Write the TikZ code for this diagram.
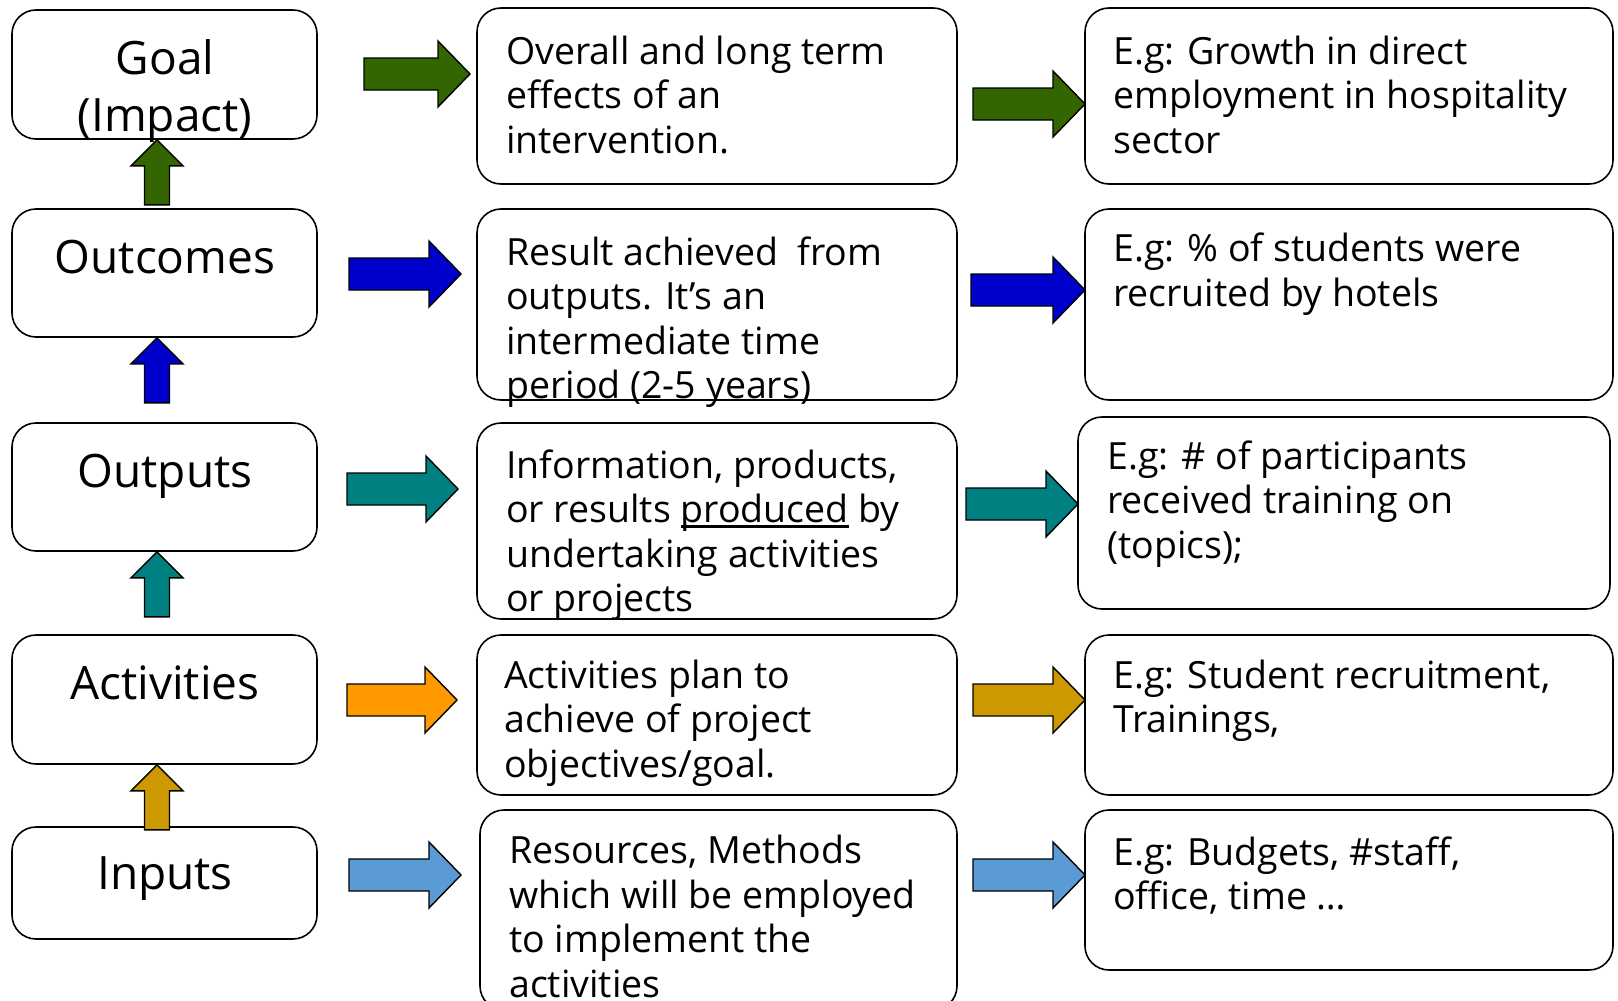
\documentclass[tikz,border=0pt]{standalone}
\usepackage{fontspec}
\setmainfont{Open Sans}
\usetikzlibrary{calc}
\definecolor{goalgreen}{HTML}{336600}
\definecolor{outblue}{HTML}{0000CC}
\definecolor{outteal}{HTML}{008080}
\definecolor{actorange}{HTML}{FF9900}
\definecolor{actgold}{HTML}{CC9900}
\definecolor{inpblue}{HTML}{5B9BD5}
\tikzset{
 box/.style={draw, line width=1.6pt, rounded corners=24pt, inner sep=0pt},
 lvl/.style={font=\fontsize{46}{57}\selectfont, anchor=base, align=center, inner sep=0pt},
 desc/.style={font=\fontsize{37.5}{44.5}\selectfont, anchor=base west, align=left, inner sep=0pt},
 blk/.style={draw, line width=1.4pt, line join=miter},
}
% fat arrow to the right: colour, x from, x to, y
\newcommand{\harr}[4]{\draw[blk, fill=#1] (#2,#4-16) -- (#3-32,#4-16) -- (#3-32,#4-33) -- (#3,#4)
 -- (#3-32,#4+33) -- (#3-32,#4+16) -- (#2,#4+16) -- cycle;}
% fat arrow up into a box: colour, box
\newcommand{\varr}[2]{\draw[blk, fill=#1] let \p1=(#2.south) in
 (\x1-20pt,\y1-26pt) -- (\x1-33.5pt,\y1-26pt) -- (\x1-7.5pt,\y1) -- (\x1+18.5pt,\y1-26pt)
 -- (\x1+5pt,\y1-26pt) -- (\x1+5pt,\y1-65pt) -- (\x1-20pt,\y1-65pt) -- cycle;}
% heavy underline
\newcommand{\uln}[1]{\setbox0\hbox{#1}\rlap{\rule[-5pt]{\wd0}{2.2pt}}\box0\relax}
\begin{document}
\begin{tikzpicture}[x=1pt, y=-1pt]
\useasboundingbox (0,0) rectangle (1618,1001);
% levels
\node[box, minimum width=305, minimum height=129] (goal) at (164.5,74.5) {};
\node[box, minimum width=305, minimum height=128] (outc) at (164.5,273) {};
\node[box, minimum width=305, minimum height=128] (outp) at (164.5,487) {};
\node[box, minimum width=305, minimum height=129] (acts) at (164.5,699.5) {};
\node[box, minimum width=305, minimum height=112] (inps) at (164.5,883) {};
% (texts sit on the baseline of their last line)
\node[lvl] (lgoal) at (165,131) {Goal\\(Impact)};
\node[lvl] (loutc) at (165,273) {Outcomes};
\node[lvl] (loutp) at (165,487) {Outputs};
\node[lvl] (lacts) at (165,699) {Activities};
\node[lvl] (linps) at (165,889) {Inputs};
\varr{goalgreen}{goal}
\varr{outblue}{outc}
\varr{outteal}{outp}
\varr{actgold}{acts}
% meaning
\node[box, minimum width=480, minimum height=176] (m1) at (717,96) {};
\node[box, minimum width=480, minimum height=191] (m2) at (717,304.5) {};
\node[box, minimum width=480, minimum height=196] (m3) at (717,521) {};
\node[box, minimum width=480, minimum height=160] (m4) at (717,715) {};
\node[box, minimum width=477, minimum height=200] (m5) at (718.5,910) {};
\node[desc] (d1) at (506,153) {Overall and long term\\effects of an\\intervention.};
\node[desc] (d2) at (506,398.5) {Result achieved\ \ from\\outputs. It’s an\\intermediate time\\period (2-5 years)};
\node[desc] (d3) at (506,611.5) {Information, products,\\or results \uln{produced} by\\undertaking activities\\or projects};
\node[desc] (d4) at (504,777) {Activities plan to\\achieve of project\\objectives/goal.};
\node[desc] (d5) at (509,997) {Resources, Methods\\which will be employed\\to implement the\\activities};
% examples
\node[box, minimum width=528, minimum height=176] (r1) at (1349,96) {};
\node[box, minimum width=528, minimum height=191] (r2) at (1349,304.5) {};
\node[box, minimum width=532, minimum height=192] (r3) at (1344,513) {};
\node[box, minimum width=528, minimum height=160] (r4) at (1349,715) {};
\node[box, minimum width=528, minimum height=160] (r5) at (1349,890) {};
\node[desc] (e1) at (1113,153) {E.g: Growth in direct\\employment in hospitality\\sector};
\node[desc] (e2) at (1113,306) {E.g: \% of students were\\recruited by hotels};
\node[desc] (e3) at (1107,558) {E.g: \# of participants\\received training on\\(topics);};
\node[desc] (e4) at (1113,732.5) {E.g: Student recruitment,\\Trainings,};
\node[desc] (e5) at (1113,909.5) {E.g: Budgets, \#staff,\\office, time …};
% arrows
\harr{goalgreen}{364}{470}{74}
\harr{outblue}{349}{461}{274}
\harr{outteal}{347}{458}{489}
\harr{actorange}{347}{457}{700}
\harr{inpblue}{349}{461}{875}
\harr{goalgreen}{973}{1085}{104}
\harr{outblue}{971}{1085}{290}
\harr{outteal}{966}{1078}{504}
\harr{actgold}{973}{1085}{700}
\harr{inpblue}{973}{1085}{875}
\end{tikzpicture}
\end{document}
